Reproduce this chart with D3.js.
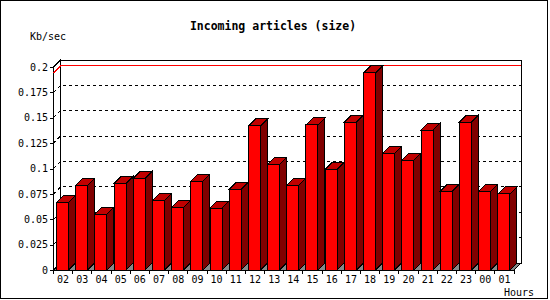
<!DOCTYPE html>
<html>
<head>
<meta charset="utf-8">
<script src="https://cdn.jsdelivr.net/npm/d3@7"></script>
<style>
  body { margin: 0; background: #fff; }
  svg { display: block; font-family: "DejaVu Sans Mono", monospace; }
</style>
</head>
<body>
<div id="chart"></div>
<script>
// incoming articles, kb/sec per hour
const hours = ['02','03','04','05','06','07','08','09','10','11','12','13',
               '14','15','16','17','18','19','20','21','22','23','00','01'];
const values = [0.0667, 0.0834, 0.0548, 0.0854, 0.0903, 0.0686, 0.0617, 0.0874,
                0.0608, 0.0795, 0.1419, 0.1040, 0.0834, 0.1429, 0.0992, 0.1458,
                0.1941, 0.1150, 0.1080, 0.1379, 0.0775, 0.1458, 0.0775, 0.0749];
const yTicks = [0, 0.025, 0.05, 0.075, 0.1, 0.125, 0.15, 0.175, 0.2];

const width = 550, height = 300;
const depth = 7;          // 3d offset
const pLeft = 53.5, pRight = 514, pBottom = 270, pTop = 67;

const svg = d3.select('#chart').append('svg')
    .attr('width', width)
    .attr('height', height);

const g = svg.append('g').attr('shape-rendering', 'crispEdges');

// outer frame
g.append('rect')
    .attr('x', 0.5).attr('y', 0.5)
    .attr('width', 547).attr('height', 298)
    .attr('fill', 'none').attr('stroke', '#000').attr('stroke-width', 1.5);

const x = d3.scaleBand().domain(hours).range([pLeft, pRight]);
const y = d3.scaleLinear().domain([0, 0.2]).range([pBottom, pTop]);

// back wall
g.append('rect')
    .attr('x', pLeft + depth).attr('y', pTop - depth)
    .attr('width', pRight - pLeft).attr('height', pBottom - pTop)
    .attr('fill', '#fff').attr('stroke', '#000');

// floor
g.append('path')
    .attr('d', `M${pLeft},${pBottom}L${pRight},${pBottom}L${pRight + depth},${pBottom - depth}L${pLeft + depth},${pBottom - depth}Z`)
    .attr('fill', '#888').attr('stroke', '#000');

// left wall
g.append('path')
    .attr('d', `M${pLeft},${pBottom}L${pLeft},${pTop}L${pLeft + depth},${pTop - depth}L${pLeft + depth},${pBottom - depth}Z`)
    .attr('fill', '#fff').attr('stroke', '#000');

// dotted grid lines on the back wall and left wall
const grid = yTicks.filter(t => t > 0 && t < 0.2);
g.append('g').selectAll('path')
    .data(grid)
    .enter()
    .append('path')
    .attr('d', d => `M${pLeft},${y(d)}L${pLeft + depth},${y(d) - depth}L${pRight + depth},${y(d) - depth}`)
    .attr('fill', 'none')
    .attr('stroke', '#000')
    .attr('stroke-dasharray', '3,3');

// max line
const maxV = d3.max(values);
g.append('path')
    .attr('d', `M${pLeft},${y(maxV)}L${pLeft + depth},${y(maxV) - depth}L${pRight + depth},${y(maxV) - depth}`)
    .attr('fill', 'none')
    .attr('stroke', '#f00');

// bars
const bx = h => x(h) + 3;
const bw = 12;
const bars = g.append('g').selectAll('g')
    .data(hours.map((h, i) => ({ h, v: values[i] })))
    .enter()
    .append('g');

bars.append('path')
    .attr('d', d => {
        const x0 = bx(d.h) + bw, yt = y(d.v);
        return `M${x0},${yt}L${x0 + depth},${yt - depth}L${x0 + depth},${pBottom - depth}L${x0},${pBottom}Z`;
    })
    .attr('fill', '#800000').attr('stroke', '#000');

bars.append('path')
    .attr('d', d => {
        const x0 = bx(d.h), yt = y(d.v);
        return `M${x0},${yt}L${x0 + depth},${yt - depth}L${x0 + bw + depth},${yt - depth}L${x0 + bw},${yt}Z`;
    })
    .attr('fill', '#c00000').attr('stroke', '#000');

bars.append('rect')
    .attr('x', d => bx(d.h))
    .attr('y', d => y(d.v))
    .attr('width', bw)
    .attr('height', d => pBottom - y(d.v))
    .attr('fill', '#f00').attr('stroke', '#000');

// y axis
const yAxis = g.append('g')
    .attr('transform', `translate(${pLeft},0)`)
    .call(d3.axisLeft(y).tickValues(yTicks).tickSize(3.5).tickPadding(2)
        .tickFormat(d => String(+d.toFixed(3))));
yAxis.select('.domain').remove();
yAxis.selectAll('text')
    .attr('font-family', '"DejaVu Sans Mono", monospace')
    .attr('font-size', 10)
    .attr('fill', '#000');

// x axis: labels centered, ticks at slot edges
const xAxis = g.append('g')
    .attr('transform', `translate(0,${pBottom})`)
    .call(d3.axisBottom(x).tickSize(0).tickPadding(6));
xAxis.select('.domain').remove();
xAxis.selectAll('text')
    .attr('font-family', '"DejaVu Sans Mono", monospace')
    .attr('font-size', 10)
    .attr('fill', '#000');

g.append('g').selectAll('line')
    .data(hours.map(h => x(h)).concat([pRight]))
    .enter()
    .append('line')
    .attr('x1', d => d).attr('x2', d => d)
    .attr('y1', pBottom).attr('y2', pBottom + 4)
    .attr('stroke', '#000');

// texts
svg.append('text')
    .attr('x', 273).attr('y', 30)
    .attr('text-anchor', 'middle')
    .attr('font-size', 11.5)
    .attr('font-weight', 'bold')
    .text('Incoming articles (size)');

svg.append('text')
    .attr('x', 30).attr('y', 40)
    .attr('font-size', 10)
    .text('Kb/sec');

svg.append('text')
    .attr('x', 504).attr('y', 296)
    .attr('font-size', 10)
    .text('Hours');
</script>
</body>
</html>
